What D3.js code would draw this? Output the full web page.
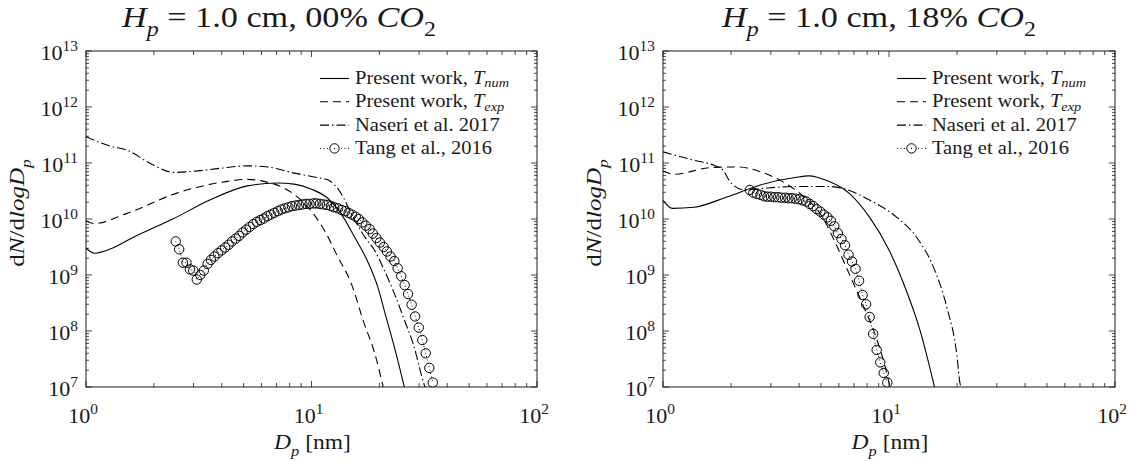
<!DOCTYPE html>
<html>
<head>
<meta charset="utf-8">
<script src="https://cdn.jsdelivr.net/npm/d3@7"></script>
<style>
  body { margin: 0; background: #fff; }
</style>
</head>
<body>
<svg id="fig" width="1143" height="461" font-family="'Liberation Serif', 'DejaVu Serif', 'Times New Roman', serif"></svg>
<script>
// ---------- axis tick labels (powers of ten) ----------
const xTickExponents = [0, 1, 2];
const yTickExponents = [7, 8, 9, 10, 11, 12, 13];

// ---------- 0 % CO2 panel ----------
const numD0  = [1.00, 1.09, 1.28, 1.60, 2.45, 3.56, 5.19, 7.06, 8.37, 10.0, 11.8, 13.5, 15.5, 17.7, 19.7, 21.4, 23.3, 25.8];
const numN0  = [3.0e9, 2.45e9, 2.9e9, 4.6e9, 1.02e10, 2.2e10, 3.9e10, 4.4e10, 4.2e10, 3.4e10, 2.35e10, 1.26e10, 4.8e9, 1.78e9, 6.0e8, 1.78e8, 5.2e7, 1.0e7];

const expD0  = [1.00, 1.09, 1.52, 2.53, 4.23, 5.19, 6.15, 7.82, 9.6, 11.4, 13.06, 15.0, 17.1, 19.0, 20.8];
const expN0  = [9.3e9, 8.3e9, 1.26e10, 2.9e10, 4.7e10, 5.1e10, 4.7e10, 3.3e10, 1.66e10, 6.3e9, 2.14e9, 7.1e8, 1.38e8, 4.2e7, 1.0e7];

const nasD0  = [1.00, 1.28, 1.52, 1.93, 2.45, 3.0, 4.0, 5.19, 6.37, 8.37, 10.6, 11.8, 13.5, 15.0, 16.5, 17.4, 19.0, 21.0, 23.3, 25.8, 28.5, 30.6, 31.8];
const nasN0  = [2.95e11, 2.0e11, 1.7e11, 9.8e10, 6.8e10, 7.1e10, 8.1e10, 8.9e10, 8.5e10, 6.6e10, 5.5e10, 5.0e10, 2.9e10, 1.26e10, 6.3e9, 4.5e9, 2.8e9, 1.23e9, 4.7e8, 1.58e8, 5.2e7, 1.74e7, 1.0e7];

const tangD0 = [2.50, 2.59, 2.69, 2.79, 2.89, 2.99, 3.10, 3.21, 3.33, 3.46, 3.58, 3.71, 3.85, 3.99, 4.14, 4.29, 4.44, 4.61, 4.78, 4.95,
                5.13, 5.32, 5.52, 5.72, 5.93, 6.14, 6.37, 6.60, 6.84, 7.09, 7.35, 7.62, 7.90, 8.19, 8.49, 8.80, 9.12, 9.46, 9.80, 10.2,
                10.5, 10.9, 11.3, 11.7, 12.2, 12.6, 13.1, 13.6, 14.1, 14.6, 15.1, 15.7, 16.2, 16.8, 17.4, 18.1, 18.7, 19.4, 20.1, 20.9,
                21.6, 22.4, 23.3, 24.1, 25.0, 25.9, 26.8, 27.8, 28.8, 29.9, 31.0, 32.1, 33.3, 34.5];
const tangN0 = [3.98e9, 2.88e9, 1.66e9, 1.66e9, 1.26e9, 1.2e9, 8.3e8, 1.0e9, 1.2e9, 1.58e9, 1.86e9, 2.14e9, 2.45e9, 2.75e9, 3.09e9, 3.47e9, 3.98e9, 4.47e9, 5.0e9, 5.75e9,
                6.46e9, 7.24e9, 8.13e9, 8.91e9, 9.55e9, 1.02e10, 1.12e10, 1.2e10, 1.29e10, 1.38e10, 1.48e10, 1.55e10, 1.62e10, 1.7e10, 1.74e10, 1.78e10, 1.82e10, 1.86e10, 1.86e10, 1.9e10,
                1.9e10, 1.86e10, 1.82e10, 1.78e10, 1.7e10, 1.62e10, 1.55e10, 1.45e10, 1.38e10, 1.29e10, 1.2e10, 1.1e10, 1.0e10, 8.7e9, 7.6e9, 6.6e9, 5.5e9, 4.57e9, 3.8e9, 3.16e9,
                2.63e9, 2.14e9, 1.78e9, 1.32e9, 9.5e8, 6.6e8, 4.57e8, 2.95e8, 1.82e8, 1.15e8, 6.9e7, 4.0e7, 2.19e7, 1.2e7];

// ---------- 18 % CO2 panel ----------
const numD18  = [1.00, 1.10, 1.37, 1.93, 2.72, 3.84, 4.40, 5.41, 6.65, 8.17, 10.0, 11.9, 13.7, 15.9];
const numN18  = [2.15e10, 1.55e10, 1.62e10, 2.5e10, 4.1e10, 5.5e10, 5.9e10, 4.7e10, 2.9e10, 1.1e10, 2.8e9, 5.4e8, 1.05e8, 1.0e7];

const expD18  = [1.00, 1.12, 1.63, 2.14, 2.72, 3.46, 4.11, 5.06, 5.80, 6.65, 7.62, 8.75, 9.7, 10.1];
const expN18  = [7.2e10, 6.3e10, 8.3e10, 8.5e10, 6.9e10, 4.4e10, 2.7e10, 1.1e10, 3.7e9, 1.07e9, 3.1e8, 7.9e7, 2.0e7, 1.0e7];

const nasD18  = [1.00, 1.37, 1.68, 1.84, 2.00, 2.30, 2.72, 3.84, 5.41, 6.43, 8.17, 10.74, 13.2, 15.7, 18.0, 20.0, 20.6, 20.8];
const nasN18  = [1.58e11, 1.12e11, 9.1e10, 7.5e10, 4.4e10, 3.3e10, 3.5e10, 3.8e10, 3.8e10, 3.4e10, 2.2e10, 1.1e10, 4.8e9, 1.41e9, 2.7e8, 3.5e7, 1.17e7, 1.0e7];

const tangD18 = [2.42, 2.51, 2.60, 2.70, 2.80, 2.90, 3.00, 3.11, 3.23, 3.34, 3.47, 3.59, 3.72, 3.86, 4.00, 4.15, 4.30, 4.46, 4.62, 4.79,
                 4.97, 5.15, 5.34, 5.53, 5.73, 5.94, 6.16, 6.39, 6.62, 6.86, 7.11, 7.37, 7.64, 7.92, 8.21, 8.51, 8.82, 9.15, 9.48, 9.83];
const tangN18 = [3.3e10, 2.95e10, 2.8e10, 2.7e10, 2.55e10, 2.5e10, 2.5e10, 2.45e10, 2.45e10, 2.4e10, 2.4e10, 2.35e10, 2.35e10, 2.3e10, 2.25e10, 2.15e10, 2.05e10, 1.86e10, 1.7e10, 1.5e10,
                 1.35e10, 1.2e10, 1.07e10, 9.3e9, 7.4e9, 5.6e9, 4.4e9, 3.4e9, 2.3e9, 1.74e9, 1.29e9, 7.9e8, 4.4e8, 3.0e8, 1.78e8, 8.9e7, 4.6e7, 2.75e7, 1.78e7, 1.2e7];

// ---------- legend and titles ----------
const legendLabels = [
  [{t: "Present work, "}, {t: "T", i: 1}, {t: "num", i: 1, sub: 1}],
  [{t: "Present work, "}, {t: "T", i: 1}, {t: "exp", i: 1, sub: 1}],
  [{t: "Naseri et al. 2017"}],
  [{t: "Tang et al., 2016"}]
];
const co2Levels = ["00%", "18%"];

// ---------- layout ----------
const svg = d3.select("#fig");
const plotTop = 51, plotBottom = 387;
const panels = [
  { left: 86,  right: 537,  titleX: 122, co2: co2Levels[0],
    num: [numD0, numN0], exp: [expD0, expN0], nas: [nasD0, nasN0], tang: [tangD0, tangN0] },
  { left: 663, right: 1115, titleX: 722, co2: co2Levels[1],
    num: [numD18, numN18], exp: [expD18, expN18], nas: [nasD18, nasN18], tang: [tangD18, tangN18] }
];

const ink = "#1a1a1a";

// writes a run of upright / italic / sub / superscript pieces into a text node
function richText(sel, parts, size, subDrop) {
  const drop = subDrop === undefined ? 0.32 : subDrop;
  sel.attr("fill", ink);
  let shift = 0;
  parts.forEach(p => {
    const target = p.sub ? size * drop : p.sup ? -size * 0.45 : 0;
    sel.append("tspan")
      .text(p.t)
      .attr("dy", target - shift)
      .attr("font-size", (p.sub || p.sup) ? size * 0.7 : size)
      .attr("font-style", p.i ? "italic" : "normal");
    shift = target;
  });
}

// a label placed at (x, y), optionally rotated, with its glyphs widened by sx
function label(parent, x, y, parts, size, opt) {
  const o = Object.assign({ anchor: "start", sx: 1.18, rotate: 0, subDrop: 0.32 }, opt || {});
  const g = parent.append("g")
    .attr("transform", `translate(${x},${y}) rotate(${o.rotate}) scale(${o.sx},1)`);
  const t = g.append("text").attr("text-anchor", o.anchor);
  richText(t, parts, size, o.subDrop);
  return g;
}

const pairs = (ds, ns) => ds.map((d, k) => ({ d: d, n: ns[k] }));

panels.forEach((P, idx) => {
  const x = d3.scaleLog().domain([1, 100]).range([P.left, P.right]);
  const y = d3.scaleLog().domain([1e7, 1e13]).range([plotBottom, plotTop]);
  const g = svg.append("g");

  const clipId = "clip" + idx;
  g.append("clipPath").attr("id", clipId).append("rect")
    .attr("x", P.left).attr("y", plotTop)
    .attr("width", P.right - P.left).attr("height", plotBottom - plotTop);

  // ticks: all four sides, pointing inward
  const xMajor = xTickExponents.map(e => Math.pow(10, e));
  const xMinor = [];
  [1, 10].forEach(b => { for (let m = 2; m <= 9; m++) xMinor.push(b * m); });
  const yMajor = yTickExponents.map(e => Math.pow(10, e));
  const yMinor = [];
  yTickExponents.slice(0, -1).forEach(e => { for (let m = 2; m <= 9; m++) yMinor.push(m * Math.pow(10, e)); });

  const tk = g.append("g").attr("stroke", ink).attr("stroke-width", 0.8);
  const xt = (v, len) => {
    tk.append("line").attr("x1", x(v)).attr("x2", x(v)).attr("y1", plotBottom).attr("y2", plotBottom - len);
    tk.append("line").attr("x1", x(v)).attr("x2", x(v)).attr("y1", plotTop).attr("y2", plotTop + len);
  };
  const yt = (v, len) => {
    tk.append("line").attr("y1", y(v)).attr("y2", y(v)).attr("x1", P.left).attr("x2", P.left + len);
    tk.append("line").attr("y1", y(v)).attr("y2", y(v)).attr("x1", P.right).attr("x2", P.right - len);
  };
  xMajor.forEach(v => xt(v, 6));
  xMinor.forEach(v => xt(v, 4));
  yMajor.forEach(v => yt(v, 6));
  yMinor.forEach(v => yt(v, 3));

  // frame
  g.append("rect").attr("x", P.left).attr("y", plotTop)
    .attr("width", P.right - P.left).attr("height", plotBottom - plotTop)
    .attr("fill", "none").attr("stroke", ink).attr("stroke-width", 1);

  // tick labels
  xTickExponents.forEach(e => {
    label(g, x(Math.pow(10, e)) - 3, 423, [{ t: "10" }, { t: String(e), sup: 1 }], 20, { anchor: "middle", sx: 1.1 });
  });
  yTickExponents.forEach(e => {
    label(g, P.left - 8, y(Math.pow(10, e)) + 9, [{ t: "10" }, { t: String(e), sup: 1 }], 20, { anchor: "end", sx: 1.1 });
  });

  // axis titles
  label(g, (P.left + P.right) / 2 + 1, 449, [{ t: "D", i: 1 }, { t: "p", i: 1, sub: 1 }, { t: " [nm]" }], 21, { anchor: "middle", sx: 1.12 });
  label(g, P.left - 62, (plotTop + plotBottom) / 2 - 6,
        [{ t: "d" }, { t: "N", i: 1 }, { t: "/d" }, { t: "logD", i: 1 }, { t: "p", i: 1, sub: 1 }], 22,
        { anchor: "middle", rotate: -90, sx: 1.14 });
  label(g, P.titleX, 27,
        [{ t: "H", i: 1 }, { t: "p", i: 1, sub: 1 }, { t: " = 1.0 cm, " + P.co2 + " " }, { t: "CO", i: 1 }, { t: "2", sub: 1 }], 29,
        { sx: 1.18 });

  // curves
  const line = d3.line().x(p => x(p.d)).y(p => y(p.n)).curve(d3.curveMonotoneX);
  const plot = g.append("g").attr("clip-path", `url(#${clipId})`).attr("fill", "none").attr("stroke", "#000");

  plot.append("path").attr("d", line(pairs(P.num[0], P.num[1]))).attr("stroke-width", 1.1);
  plot.append("path").attr("d", line(pairs(P.exp[0], P.exp[1]))).attr("stroke-width", 1.1).attr("stroke-dasharray", "8,5");
  plot.append("path").attr("d", line(pairs(P.nas[0], P.nas[1]))).attr("stroke-width", 1.1).attr("stroke-dasharray", "9,3,1.5,3");

  const tp = pairs(P.tang[0], P.tang[1]);
  plot.append("path").attr("d", d3.line().x(p => x(p.d)).y(p => y(p.n))(tp)).attr("stroke-width", 1).attr("stroke-dasharray", "1,2.5");
  plot.selectAll("circle.tang").data(tp).join("circle").attr("class", "tang")
    .attr("cx", p => x(p.d)).attr("cy", p => y(p.n)).attr("r", 4.7)
    .attr("stroke-width", 1);

  // legend
  const lx0 = P.left + 234, lx1 = P.left + 263, tx = P.left + 269;
  const rows = [78.5, 101.8, 125.1, 148.4];
  const lg = g.append("g").attr("stroke", "#000").attr("fill", "none");
  lg.append("line").attr("x1", lx0).attr("x2", lx1).attr("y1", rows[0]).attr("y2", rows[0]).attr("stroke-width", 1.1);
  lg.append("line").attr("x1", lx0).attr("x2", lx1).attr("y1", rows[1]).attr("y2", rows[1]).attr("stroke-width", 1.1).attr("stroke-dasharray", "8,5");
  lg.append("line").attr("x1", lx0).attr("x2", lx1).attr("y1", rows[2]).attr("y2", rows[2]).attr("stroke-width", 1.1).attr("stroke-dasharray", "9,3,1.5,3");
  lg.append("line").attr("x1", lx0).attr("x2", lx1).attr("y1", rows[3]).attr("y2", rows[3]).attr("stroke-width", 1).attr("stroke-dasharray", "1,2.5");
  lg.append("circle").attr("cx", (lx0 + lx1) / 2).attr("cy", rows[3]).attr("r", 4.7).attr("fill", "#fff").attr("stroke-width", 1);
  lg.append("circle").attr("cx", (lx0 + lx1) / 2).attr("cy", rows[3]).attr("r", 0.6).attr("fill", "#000").attr("stroke", "none");

  legendLabels.forEach((parts, k) => {
    label(g, tx, rows[k] + 5.5, parts, 18, { sx: 1.14, subDrop: 0.18 });
  });
});
</script>
</body>
</html>
